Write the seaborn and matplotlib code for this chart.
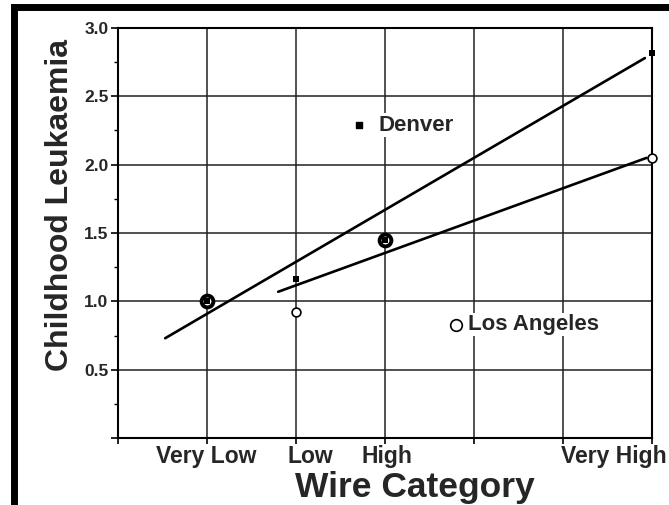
import numpy as np
import pandas as pd
import matplotlib
matplotlib.use('Agg')
import matplotlib.pyplot as plt
from matplotlib.patches import Rectangle
import seaborn as sns


# Wire code categories and where they sit on the x axis

categories = ['Very Low', 'Low', 'High', 'Very High']
category_x = [1, 2, 3, 6]

# Relative risk of childhood leukaemia per category

denver = [1.00, 1.16, 1.45, 2.82]
los_angeles = [1.00, 0.92, 1.45, 2.05]

# Trend lines (end points)

denver_fit_x = [0.53, 5.92]
denver_fit_y = [0.73, 2.78]
la_fit_x = [1.80, 5.94]
la_fit_y = [1.07, 2.05]

y_ticks = [0, 0.5, 1.0, 1.5, 2.0, 2.5, 3.0]
y_tick_labels = ['', '0.5', '1.0', '1.5', '2.0', '2.5', '3.0']

# where the category names are printed (not centred on every tick)
label_pos = [0.99, 2.16, 3.02, 5.57]


points = pd.DataFrame({'x': category_x * 2,
                       'risk': denver + los_angeles,
                       'city': ['Denver'] * 4 + ['Los Angeles'] * 4})
both = np.isclose(denver, los_angeles)


sns.set_style('white')
plt.rcParams['font.family'] = ['Liberation Sans', 'DejaVu Sans']
plt.rcParams['font.weight'] = 'bold'

fig = plt.figure(figsize=(6.69, 5.05), dpi=100)
ax = fig.add_axes([118/669, 1 - 438/505, 534/669, 410/505])

# trend lines
sns.lineplot(x=denver_fit_x, y=denver_fit_y, color='black', lw=1.9, ax=ax)
sns.lineplot(x=la_fit_x, y=la_fit_y, color='black', lw=1.9, ax=ax)

# points where both cities coincide get a heavier ring
ax.scatter(np.array(category_x)[both], np.array(los_angeles)[both], s=72,
           marker='o', facecolor='white', edgecolor='black', linewidths=2.8,
           zorder=4, clip_on=False)

la = points[points.city == 'Los Angeles']
sns.scatterplot(x=la.x[~both], y=la.risk[~both], marker='o', s=40,
                facecolor='white', edgecolor='black', linewidth=1.2,
                zorder=5, clip_on=False, ax=ax)
den = points[points.city == 'Denver']
sns.scatterplot(x=den.x, y=den.risk, marker='s', s=24, color='black',
                edgecolor='black', linewidth=0, zorder=6, clip_on=False,
                ax=ax)

# in-plot legend labels
ax.scatter([2.71], [2.29], marker='s', s=20, color='black', zorder=6)
ax.text(2.93, 2.29, 'Denver', fontsize=16, fontweight='bold', va='center',
        ha='left', zorder=6,
        bbox=dict(facecolor='white', edgecolor='none', pad=1))
ax.scatter([3.80], [0.83], marker='o', s=70, facecolor='white',
           edgecolor='black', linewidths=1.2, zorder=6)
ax.text(3.93, 0.83, 'Los Angeles', fontsize=16, fontweight='bold',
        va='center', ha='left', zorder=6,
        bbox=dict(facecolor='white', edgecolor='none', pad=1))

# axes, ticks and grid
ax.set_xlim(0, 6)
ax.set_ylim(0, 3.0)
ax.set_xticks(range(7))
ax.set_xticklabels([])
ax.set_xticks(label_pos, minor=True)
ax.set_xticklabels(categories, minor=True, fontsize=16.5, fontweight='bold')
ax.set_yticks(y_ticks)
ax.set_yticklabels(y_tick_labels, fontsize=12.5, fontweight='bold')
ax.set_yticks(np.arange(0.25, 3.0, 0.5), minor=True)

ax.tick_params(axis='x', which='major', direction='out', length=4.5,
               width=1.2, color='black', bottom=True)
ax.tick_params(axis='x', which='minor', length=0, pad=5)
ax.tick_params(axis='y', which='major', direction='out', length=5,
               width=1.2, color='black', left=True, pad=2)
ax.tick_params(axis='y', which='minor', direction='out', length=3,
               width=1.0, color='black', left=True)

ax.grid(True, which='major', color='#222222', lw=1.1)
for side in ['left', 'bottom', 'top', 'right']:
    ax.spines[side].set_visible(True)
    ax.spines[side].set_color('black')
    ax.spines[side].set_linewidth(1.5)

ax.set_xlabel('Wire Category', fontsize=25.5, fontweight='bold')
ax.xaxis.set_label_coords(0.555, -0.08)
ax.set_ylabel('Childhood Leukaemia', fontsize=23, fontweight='bold')
ax.yaxis.label.set_va('center')
ax.yaxis.set_label_coords(-(118 - 60) / 534, (438 - 205) / 410)

# thick black frame round the picture
fig.patches.append(Rectangle((13.5/669, -0.003), 1.2, 1 - 6.5/505 + 0.003,
                             transform=fig.transFigure, fill=False,
                             lw=5, ec='black'))

fig.savefig('out.png', dpi=100)
